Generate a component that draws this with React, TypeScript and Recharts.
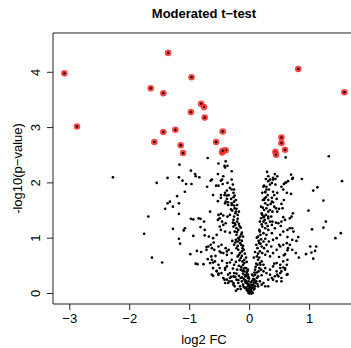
import React from 'react';
import { ScatterChart, Scatter, XAxis, YAxis, ReferenceLine } from 'recharts';

const xTicks = [-3, -2, -1, 0, 1];
const yTicks = [0, 1, 2, 3, 4];
const xDomain: [number, number] = [-3.28, 1.69];
const yDomain: [number, number] = [-0.19, 4.71];

// genes over the cutoff: [log2 FC, -log10 p]
const significant: [number, number][] = [
  [-3.09, 3.98], [-1.36, 4.35], [-0.97, 3.91], [-1.65, 3.71], [-1.44, 3.62], [0.81, 4.06], [1.58, 3.64],
  [-0.81, 3.43], [-0.76, 3.37], [-0.98, 3.28], [-0.75, 3.18], [-2.88, 3.02], [-1.44, 2.92], [-1.24, 2.96],
  [-0.45, 2.93], [-1.59, 2.74], [-1.15, 2.68], [-0.56, 2.74], [-1.11, 2.54], [-0.46, 2.55], [-0.40, 2.59],
  [-0.45, 2.58], [0.53, 2.82], [0.53, 2.72], [0.59, 2.60], [0.43, 2.56], [0.44, 2.51],
];

// all other genes, down-regulated side
const backgroundDown: [number, number][] = [
  [-2.28, 2.10], [-1.55, 2.00], [-1.37, 2.09], [-1.18, 2.10], [-1.17, 2.33], [-1.12, 2.04], [-1.08, 1.84], [-1.21, 1.76], [-1.18, 1.63], [-1.37, 1.63],
  [-1.41, 1.53], [-1.28, 1.57], [-1.18, 1.44], [-1.69, 1.39], [-1.76, 1.08], [-1.28, 1.17], [-1.10, 1.14], [-1.18, 0.99], [-1.16, 0.90], [-1.63, 0.65],
  [-1.46, 0.56], [-0.99, 0.71], [-0.88, 0.77], [-0.81, 0.75], [-0.87, 0.53], [-0.90, 0.54], [-0.77, 0.53], [-0.72, 0.84], [-0.70, 0.62], [-0.64, 0.67],
  [-0.65, 0.88], [-0.60, 0.92], [-0.57, 0.68], [-0.61, 0.56], [-0.55, 0.41], [-0.61, 0.32], [-0.52, 0.36], [-0.48, 0.74], [-0.46, 0.59], [-0.38, 0.55],
  [-0.41, 0.46], [-0.38, 0.76], [-0.42, 0.25], [-0.34, 0.22], [-0.33, 0.37], [-0.27, 0.31], [-0.27, 0.19], [-0.25, 0.13], [-1.33, 1.66], [-0.94, 1.34],
  [-0.85, 1.36], [-0.76, 1.30], [-0.94, 1.04], [-0.82, 1.20], [-0.75, 1.05], [-1.08, 1.18],
  [-0.70, 2.45], [-0.52, 2.35], [-0.40, 2.39], [-0.37, 2.31], [-0.42, 2.31], [-0.41, 2.28], [-0.30, 2.21], [-0.98, 2.22], [-0.91, 2.16], [-0.90, 2.12],
  [-0.84, 2.10], [-0.53, 2.16], [-0.65, 2.04], [-0.46, 2.06], [-0.30, 2.06], [-1.06, 1.98], [-0.97, 1.98], [-0.71, 1.93], [-0.56, 1.95], [-0.52, 1.95],
  [-0.48, 1.78], [-0.42, 1.78], [-0.38, 1.77], [-0.35, 1.78], [-0.48, 1.73], [-0.38, 1.71], [-0.31, 1.71], [-0.27, 1.74], [-0.25, 1.77],
  [-0.53, 1.67], [-0.41, 1.63], [-0.36, 1.65], [-0.30, 1.63], [-0.26, 1.66], [-0.36, 1.60], [-0.26, 1.59], [-0.25, 1.54], [-0.22, 1.53], [-0.23, 1.48],
  [-0.66, 1.48], [-0.52, 1.42], [-0.48, 1.44], [-0.44, 1.41], [-0.37, 1.39], [-0.33, 1.42], [-0.26, 1.39], [-0.82, 1.35], [-0.98, 1.35],
  [-0.63, 2.06], [-0.48, 2.04], [-0.44, 2.12], [-0.37, 2.00], [-0.33, 1.91], [-0.30, 1.88], [-0.38, 1.86], [-0.61, 1.78], [-0.41, 1.82], [-0.27, 1.82],
  [-0.40, 1.66], [-0.30, 1.60], [-0.50, 1.36], [-0.53, 1.33], [-0.46, 1.30], [-0.44, 1.24], [-0.50, 1.21], [-0.40, 1.27], [-0.48, 1.15], [-0.41, 1.12],
  [-0.27, 1.33], [-0.25, 1.27], [-0.27, 1.21], [-0.22, 1.18], [-0.25, 1.12], [-0.19, 1.15], [-0.22, 1.06], [-0.19, 1.00], [-0.16, 1.03], [-0.23, 0.97],
  [-0.20, 0.94], [-0.16, 0.91], [-0.75, 1.15], [-0.68, 1.03], [-0.61, 1.00], [-0.55, 1.06], [-0.69, 0.85], [-0.72, 0.79], [-0.63, 0.82], [-0.59, 0.79],
  [-0.52, 0.85], [-0.47, 0.88], [-0.40, 0.82], [-0.50, 0.76], [-0.44, 0.73], [-0.38, 0.70], [-0.35, 0.79], [-0.30, 0.73], [-0.26, 0.88], [-0.22, 0.82],
  [-0.19, 0.79], [-0.16, 0.73], [-0.13, 0.76], [-0.20, 0.67], [-0.15, 0.64], [-0.12, 0.58], [-0.09, 0.61],
  [-0.63, 0.61], [-0.66, 0.55], [-0.58, 0.58], [-0.52, 0.52], [-0.61, 0.46], [-0.50, 0.46], [-0.55, 0.40], [-0.47, 0.37], [-0.41, 0.43], [-0.38, 0.49],
  [-0.36, 0.34], [-0.44, 0.28], [-0.38, 0.25], [-0.33, 0.28], [-0.30, 0.22], [-0.36, 0.19], [-0.27, 0.16], [-0.41, 0.19], [-0.24, 0.30], [-0.22, 0.25],
  [-0.19, 0.19], [-0.16, 0.13], [-0.13, 0.22], [-0.11, 0.16], [-0.08, 0.10], [-0.05, 0.07], [-0.26, 0.37], [-0.52, 0.34], [-0.63, 0.34],
  [-0.11, 0.52], [-0.08, 0.46], [-0.09, 0.40], [-0.05, 0.37], [-0.07, 0.31], [-0.03, 0.28], [-0.02, 0.22], [-0.05, 0.19], [-0.01, 0.16], [-0.03, 0.13],
  [0.00, 0.10], [-0.01, 0.07], [0.02, 0.04], [-0.02, 0.01], [0.00, 0.00], [0.03, 0.00],
  [-0.20, 1.35], [-0.18, 1.26], [-0.15, 1.19], [-0.21, 1.30], [-0.13, 1.10], [-0.11, 1.03], [-0.13, 0.95], [-0.11, 0.86], [-0.10, 0.79], [-0.08, 0.72],
  [-0.06, 0.65], [-0.05, 0.57], [-0.06, 0.46], [-0.03, 0.43], [-0.03, 0.34], [-0.01, 0.27], [-0.18, 1.48], [-0.21, 1.60], [-0.23, 1.69], [-0.26, 1.88],
  [-0.28, 1.97], [-0.20, 0.86], [-0.18, 0.70], [-0.23, 0.57], [-0.18, 0.50], [-0.15, 0.43], [-0.11, 0.36], [-0.10, 0.27], [-0.06, 0.23], [-0.10, 0.12],
  [-0.04, 0.06], [-0.30, 0.61], [-0.26, 0.52], [-0.21, 0.43], [-0.18, 0.32], [-0.15, 0.08], [-0.20, 0.08], [-0.23, 0.05], [-0.45, 1.98],
  [-0.24, 1.45], [-0.20, 1.42], [-0.29, 1.50], [-0.17, 1.22], [-0.24, 1.24], [-0.14, 1.07], [-0.21, 1.11], [-0.17, 0.97], [-0.14, 0.88], [-0.24, 0.92],
  [-0.12, 0.82], [-0.17, 0.60], [-0.13, 0.68], [-0.09, 0.55], [-0.14, 0.48], [-0.12, 0.41], [-0.08, 0.33], [-0.13, 0.29], [-0.07, 0.20], [-0.03, 0.08],
  [-0.28, 1.28], [-0.31, 1.52], [-0.33, 1.10], [-0.29, 0.95], [-0.33, 0.56], [-0.28, 0.45], [-0.22, 0.36], [-0.31, 0.30], [-0.19, 0.24], [-0.15, 0.28],
];

// all other genes, up-regulated side
const backgroundUp: [number, number][] = [
  [0.60, 2.46], [1.32, 2.48], [0.87, 2.07], [0.71, 2.07], [0.69, 2.15], [0.72, 2.09], [0.61, 2.01], [0.57, 1.98], [0.42, 2.16], [0.46, 2.12],
  [0.43, 2.07], [0.39, 2.06], [0.37, 2.00], [0.43, 1.97], [0.34, 1.97], [1.54, 2.03], [1.13, 1.92], [1.06, 1.86], [0.69, 1.80], [1.23, 1.68],
  [0.57, 1.69], [0.53, 1.62], [0.39, 1.84], [0.41, 1.78], [0.46, 1.82], [0.45, 1.71], [0.37, 1.73], [0.39, 1.65], [0.35, 1.62], [0.41, 1.57],
  [0.44, 1.54], [0.38, 1.48], [0.46, 1.48], [0.55, 1.54], [0.49, 1.53], [0.98, 1.50], [0.72, 1.45], [0.70, 1.39], [0.56, 1.38], [0.36, 1.39],
  [0.31, 2.03], [0.28, 1.93], [0.32, 1.88], [0.26, 1.83], [0.30, 1.78], [0.27, 1.74], [0.31, 1.69], [0.26, 1.63], [0.30, 1.60], [0.28, 1.54],
  [0.24, 1.51], [0.31, 1.48], [0.27, 1.42], [0.23, 1.38], [0.31, 1.39], [0.31, 2.12], [0.34, 2.06], [0.39, 2.09], [0.59, 2.00], [0.64, 2.03],
  [0.56, 1.88], [0.62, 1.82], [0.53, 1.93], [0.23, 1.93], [0.26, 1.84], [0.24, 1.69], [0.37, 1.66], [0.34, 1.51], [0.20, 1.45], [0.24, 1.39],
  [0.31, 1.36], [0.23, 1.30], [0.27, 1.27], [0.34, 1.30], [0.37, 1.24], [0.21, 1.21], [0.26, 1.18], [0.31, 1.15], [0.17, 1.12], [0.23, 1.09],
  [0.28, 1.06], [0.37, 1.09], [0.42, 1.18], [0.48, 1.27], [0.53, 1.30], [0.59, 1.33], [0.67, 1.36], [0.71, 1.18], [0.63, 1.15], [0.56, 1.12],
  [0.51, 1.06], [0.45, 1.00], [0.39, 0.97], [0.14, 1.03], [0.19, 0.98], [0.23, 0.94], [0.16, 0.91], [0.20, 0.85], [0.24, 0.82], [0.28, 0.88],
  [0.32, 0.94], [0.36, 0.85], [0.13, 0.82], [0.17, 0.76], [0.21, 0.73], [0.26, 0.70], [0.30, 0.76], [0.34, 0.67], [0.39, 0.73], [0.45, 0.79],
  [0.51, 0.85], [0.56, 0.88], [0.62, 0.91], [0.64, 0.82], [0.12, 0.67], [0.14, 0.61], [0.17, 0.55], [0.20, 0.58], [0.23, 0.52], [0.13, 0.52],
  [0.16, 0.46], [0.19, 0.43], [0.23, 0.40], [0.26, 0.46], [0.28, 0.37], [0.34, 0.43], [0.39, 0.49], [0.45, 0.55], [0.51, 0.52], [0.56, 0.58],
  [0.59, 0.46], [0.51, 0.37], [0.42, 0.31], [0.37, 0.28], [0.31, 0.25], [0.45, 0.22], [0.53, 0.28], [0.62, 0.34],
  [0.09, 0.34], [0.12, 0.28], [0.08, 0.25], [0.10, 0.19], [0.06, 0.16], [0.09, 0.13], [0.04, 0.10], [0.07, 0.07], [0.03, 0.04], [0.05, 0.01],
  [0.14, 0.31], [0.17, 0.22], [0.20, 0.16], [0.23, 0.19], [0.14, 0.13], [0.26, 0.13], [0.31, 0.13],
  [1.27, 1.30], [1.04, 1.16], [1.23, 1.19], [1.52, 1.09], [1.43, 1.00], [1.01, 0.85], [1.11, 0.85], [1.09, 0.77], [1.03, 0.74], [0.94, 0.71],
  [1.06, 0.63], [0.82, 0.65], [0.77, 0.73], [0.71, 0.79], [0.78, 0.95], [0.81, 1.02], [0.71, 0.97], [0.67, 0.88], [0.63, 1.02], [0.49, 0.88],
  [0.63, 0.78], [0.57, 0.69], [0.49, 0.66], [0.63, 0.61], [0.62, 0.52], [0.56, 0.47], [0.59, 0.43], [0.63, 0.35], [0.53, 0.40], [0.46, 0.34],
  [0.41, 0.54], [0.53, 0.22], [0.67, 1.18], [0.73, 1.12], [0.52, 1.22], [0.44, 1.28], [0.38, 1.30], [0.59, 0.71], [0.51, 0.46], [0.45, 0.40],
  [0.48, 0.31], [0.39, 0.25], [0.34, 0.34],
  [0.11, 0.88], [0.09, 0.75], [0.07, 0.65], [0.11, 0.54], [0.09, 0.43], [0.06, 0.32], [0.04, 0.23], [0.12, 1.01], [0.16, 1.15], [0.17, 1.30],
  [0.21, 1.42], [0.19, 1.57], [0.22, 1.69], [0.21, 1.82], [0.24, 1.95], [0.27, 2.07], [0.29, 2.20],
  [-0.04, 0.05], [0.01, 0.02], [-0.02, 0.04], [0.02, 0.08], [0.05, 0.11], [-0.06, 0.10], [0.03, 0.15], [-0.04, 0.18], [0.07, 0.20], [-0.08, 0.24],
  [0.06, 0.26], [-0.07, 0.33], [0.08, 0.38], [-0.10, 0.45], [0.10, 0.48], [0.00, 0.12], [-0.02, 0.30], [0.04, 0.34], [0.02, 0.20], [-0.04, 0.40],
  [0.15, 0.95], [0.18, 1.06], [0.20, 1.25], [0.25, 1.33], [0.22, 1.55], [0.25, 1.72], [0.28, 1.88], [0.19, 1.36], [0.14, 0.72], [0.16, 0.65],
  [0.18, 0.52], [0.15, 0.40], [0.12, 0.38], [0.20, 0.33], [0.11, 0.22], [0.13, 0.17], [0.08, 0.09], [0.18, 0.90], [0.26, 0.99], [0.30, 1.22],
];

const toRows = (pairs: [number, number][]) => pairs.map(([fc, p]) => ({ fc, p }));
const bgData = toRows([...backgroundDown, ...backgroundUp]);
const sigData = toRows(significant);

const FONT = '"Liberation Sans", Arial, Helvetica, sans-serif';
const INK = '#222';

const fmt = (v: number) => (v < 0 ? `\u2212${Math.abs(v)}` : `${v}`);

const XTick = (props: any) => {
  const { x, y, payload } = props;
  return (
    <text x={x} y={y + 11} textAnchor="middle" fontSize={13} fontFamily={FONT} fill="#000">
      {fmt(payload.value)}
    </text>
  );
};

const YTick = (props: any) => {
  const { x, y, payload } = props;
  return (
    <text
      transform={`translate(${x - 5},${y}) rotate(-90)`}
      textAnchor="middle"
      fontSize={13}
      fontFamily={FONT}
      fill="#000"
    >
      {fmt(payload.value)}
    </text>
  );
};

const Dot = (props: any) => <circle cx={props.cx} cy={props.cy} r={1.35} fill="#000" />;

// red halo with the black gene dot still showing through
const SigDot = (props: any) => (
  <g>
    <circle cx={props.cx} cy={props.cy} r={3.3} fill="#ff3030" fillOpacity={0.9} />
    <circle cx={props.cx} cy={props.cy} r={1.2} fill="#000" />
  </g>
);

export default function App() {
  return (
    <div style={{ position: 'fixed', left: 0, top: 0, width: 351, height: 348, background: '#fff' }}>
      <ScatterChart width={351} height={348} margin={{ top: 33, right: 0, bottom: 0, left: 0 }}>
        <XAxis
          type="number"
          dataKey="fc"
          domain={xDomain}
          ticks={xTicks}
          allowDataOverflow
          height={44}
          tickSize={6}
          stroke={INK}
          tick={<XTick />}
        />
        <YAxis
          type="number"
          dataKey="p"
          domain={yDomain}
          ticks={yTicks}
          allowDataOverflow
          width={53}
          tickSize={6}
          stroke={INK}
          tick={<YTick />}
        />
        <ReferenceLine y={yDomain[1]} stroke={INK} ifOverflow="visible" />
        <Scatter data={bgData} shape={<Dot />} isAnimationActive={false} />
        <Scatter data={sigData} shape={<SigDot />} isAnimationActive={false} />
        <text x={204} y={18} textAnchor="middle" fontSize={13} fontWeight="bold" fontFamily={FONT} fill="#000">
          Moderated t{'\u2212'}test
        </text>
        <text x={204} y={344} textAnchor="middle" fontSize={13} fontFamily={FONT} fill="#000">
          log2 FC
        </text>
        <text
          transform="translate(22,168.5) rotate(-90)"
          textAnchor="middle"
          fontSize={13}
          fontFamily={FONT}
          fill="#000"
        >
          -log10(p{'\u2212'}value)
        </text>
      </ScatterChart>
    </div>
  );
}
